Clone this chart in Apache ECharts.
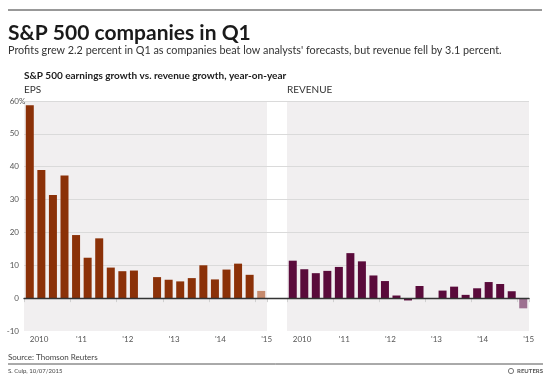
<!DOCTYPE html>
<html>
<head>
<meta charset="utf-8">
<script src="https://cdn.jsdelivr.net/npm/echarts@6/dist/echarts.min.js"></script>
<style>
  html, body { margin: 0; padding: 0; background: #fff; }
  #chart { width: 550px; height: 376px; }
</style>
</head>
<body>
<div id="chart"></div>
<script>
// quarters 2010 Q1 .. 2015 Q1
const quarters = ['2010Q1','2010Q2','2010Q3','2010Q4','2011Q1','2011Q2','2011Q3','2011Q4',
  '2012Q1','2012Q2','2012Q3','2012Q4','2013Q1','2013Q2','2013Q3','2013Q4',
  '2014Q1','2014Q2','2014Q3','2014Q4','2015Q1']
const yearLabels = ['2010', "'11", "'12", "'13", "'14", "'15"]
const eps = [58.7, 39.0, 31.4, 37.3, 19.2, 12.3, 18.2, 9.3, 8.2, 8.4, 0, 6.4, 5.6, 5.1, 6.1, 10.0, 5.7, 8.7, 10.5, 7.1, 2.2]
const revenue = [11.4, 8.8, 7.6, 8.3, 9.5, 13.7, 11.2, 6.9, 5.2, 0.8, -0.7, 3.7, 0, 2.3, 3.5, 1.0, 3.0, 4.9, 4.3, 2.1, -3.1]
const yTicks = [-10, 0, 10, 20, 30, 40, 50, 60]

const FONT = 'Lato'
const chart = echarts.init(document.getElementById('chart'))

// last quarter is drawn lighter
const colorBars = (values, dark, light) => values.map((v, i) => ({
  value: v,
  itemStyle: {color: i === values.length - 1 ? light : dark}
}))

const catAxis = (gridIndex) => ({
  type: 'category',
  gridIndex,
  data: quarters,
  axisLine: {show: false},
  axisTick: {
    show: true,
    interval: (i) => i % 4 === 0,
    length: 4,
    lineStyle: {color: '#d0d0d0'}
  },
  axisLabel: {
    interval: (i) => i % 4 === 0,
    formatter: (v, i) => yearLabels[i / 4],
    align: 'left',
    margin: 4,
    fontFamily: FONT,
    fontSize: 8,
    color: '#555'
  }
})

const hiddenY = (gridIndex) => ({
  type: 'value',
  gridIndex,
  min: yTicks[0],
  max: yTicks[yTicks.length - 1],
  interval: 10,
  axisLine: {show: false},
  axisTick: {show: false},
  axisLabel: {show: false},
  splitLine: {show: false}
})

const txt = (text, left, top, size, weight, color) => ({
  text, left, top, padding: 0,
  textStyle: {fontFamily: FONT, fontSize: size, fontWeight: weight, color}
})

let option = {
  animation: false,
  title: [
    txt('S&P 500 companies in Q1', 8, 23, 21, 'bold', '#1a1a1a'),
    txt("Profits grew 2.2 percent in Q1 as companies beat low analysts' forecasts, but revenue fell by 3.1 percent.",
      8, 45, 10.8, 'normal', '#333'),
    txt('S&P 500 earnings growth vs. revenue growth, year-on-year', 24, 71, 10, 'bold', '#1a1a1a'),
    txt('EPS', 24, 85, 10, 'normal', '#333'),
    txt('REVENUE', 287, 85, 10, 'normal', '#333'),
    txt('Source: Thomson Reuters', 8, 353, 8, 'normal', '#444'),
    txt('S. Culp, 10/07/2015', 8, 368, 6, 'normal', '#444'),
    {text: 'REUTERS', right: 7, top: 368, padding: 0,
      textStyle: {fontFamily: FONT, fontSize: 6, fontWeight: 'bold', color: '#555'}}
  ],
  grid: [
    {left: 24, top: 101, width: 243, height: 230, show: true, backgroundColor: '#f1eff0', borderWidth: 0},
    {left: 287, top: 101, width: 242, height: 230, show: true, backgroundColor: '#f1eff0', borderWidth: 0},
    {left: 24, top: 101, width: 505, height: 230}
  ],
  xAxis: [
    catAxis(0),
    catAxis(1),
    {
      type: 'value', gridIndex: 2, min: 0, max: 1, z: 3,
      axisLine: {show: true, onZero: true, lineStyle: {color: '#333', width: 1.3}},
      axisTick: {show: false}, axisLabel: {show: false}, splitLine: {show: false}
    }
  ],
  yAxis: [
    hiddenY(0),
    hiddenY(1),
    {
      type: 'value', gridIndex: 2, z: 1,
      min: yTicks[0], max: yTicks[yTicks.length - 1], interval: 10,
      axisLine: {show: false}, axisTick: {show: false},
      axisLabel: {margin: 5, fontFamily: FONT, fontSize: 8, color: '#555'},
      splitLine: {lineStyle: {color: ['rgba(0,0,0,0)', '#dadada', '#dadada', '#dadada', '#dadada', '#dadada', '#dadada', '#dadada']}}
    }
  ],
  graphic: [
    {type: 'line', shape: {x1: 8, y1: 10, x2: 542, y2: 10}, style: {stroke: '#333', lineWidth: 1}},
    {type: 'line', shape: {x1: 8, y1: 364, x2: 543, y2: 364}, style: {stroke: '#555', lineWidth: 1}},
    {type: 'text', left: 19, top: 97, style: {text: '%', font: '8px Lato', fill: '#555'}},
    {type: 'circle', shape: {cx: 511, cy: 371, r: 2.6}, style: {fill: 'none', stroke: '#777', lineWidth: 1}}
  ],
  series: [
    {
      name: 'EPS', type: 'bar', xAxisIndex: 0, yAxisIndex: 0,
      barWidth: 8,
      data: colorBars(eps, '#8b3108', '#c68a6d')
    },
    {
      name: 'Revenue', type: 'bar', xAxisIndex: 1, yAxisIndex: 1,
      barWidth: 8,
      data: colorBars(revenue, '#5a0b3b', '#9d7090')
    }
  ]
}
chart.setOption(option)
</script>
</body>
</html>
